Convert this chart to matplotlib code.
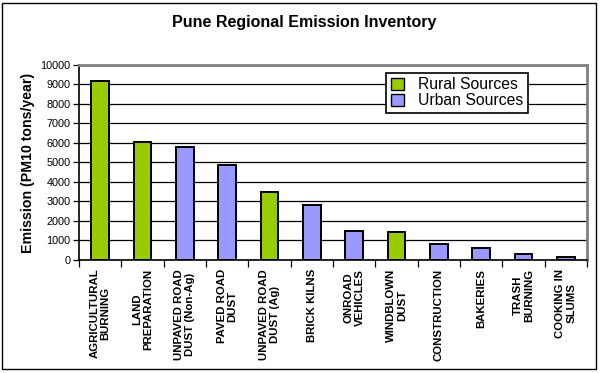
import matplotlib.pyplot as plt
from matplotlib.patches import Patch, Rectangle
import numpy as np

plt.rcParams['font.family'] = ['Liberation Sans', 'DejaVu Sans']

# data
categories = ['AGRICULTURAL\nBURNING', 'LAND\nPREPARATION', 'UNPAVED ROAD\nDUST (Non-Ag)',
              'PAVED ROAD\nDUST', 'UNPAVED ROAD\nDUST (Ag)', 'BRICK KILNS',
              'ONROAD\nVEHICLES', 'WINDBLOWN\nDUST', 'CONSTRUCTION', 'BAKERIES',
              'TRASH\nBURNING', 'COOKING IN\nSLUMS']
emissions = [9200, 6050, 5800, 4850, 3500, 2800, 1500, 1450, 830, 630, 300, 170]
source_type = ['Rural', 'Rural', 'Urban', 'Urban', 'Rural', 'Urban',
               'Urban', 'Rural', 'Urban', 'Urban', 'Urban', 'Urban']
yticks = list(range(0, 10001, 1000))

colors = {'Rural': '#99CC00', 'Urban': '#9999FF'}

fig = plt.figure(figsize=(6, 3.73), dpi=100)
ax = fig.add_axes([0.1317, 0.303, 0.8466, 0.523])

x = np.arange(len(categories))
ax.bar(x, emissions, width=0.42, color=[colors[s] for s in source_type],
       edgecolor='black', linewidth=1.4, zorder=3)

ax.set_xlim(-0.5, len(categories) - 0.5)
ax.set_ylim(0, 10000)
ax.set_yticks(yticks)
ax.set_yticklabels([str(v) for v in yticks], fontsize=7.8)
ax.yaxis.grid(True, color='black', linewidth=0.9, zorder=0)
ax.set_axisbelow(True)

# category ticks sit between bars
ax.set_xticks(np.arange(len(categories) + 1) - 0.5)
ax.set_xticklabels([])
ax.tick_params(axis='x', length=5, width=0.9, direction='out')
ax.tick_params(axis='y', length=4, width=0.9, direction='out', pad=2)
for xi, lab in zip(x, categories):
    ax.text(xi, -0.045, lab, transform=ax.get_xaxis_transform(), rotation=90,
            ha='center', va='top', multialignment='center', fontsize=8.2,
            fontweight='bold', linespacing=1.1)

for side in ['top', 'right']:
    ax.spines[side].set_color('#808080')
    ax.spines[side].set_linewidth(2)
for side in ['left', 'bottom']:
    ax.spines[side].set_linewidth(1.2)

ax.set_ylabel('Emission (PM10 tons/year)', fontsize=10.2, fontweight='bold', labelpad=4)
fig.text(0.507, 0.94, 'Pune Regional Emission Inventory', ha='center', va='center',
         fontsize=11.5, fontweight='bold')

handles = [Patch(facecolor=colors['Rural'], edgecolor='black', label='Rural Sources'),
           Patch(facecolor=colors['Urban'], edgecolor='black', label='Urban Sources')]
leg = ax.legend(handles=handles, loc='upper left', bbox_to_anchor=(0.605, 0.96),
                fontsize=11.3, frameon=True, fancybox=False, framealpha=1,
                borderpad=0.3, handlelength=0.8, handleheight=0.8,
                handletextpad=0.9, labelspacing=0.05, borderaxespad=0)
leg.get_frame().set_edgecolor('black')
leg.get_frame().set_linewidth(1.2)

# outer chart border
fig.patches.append(Rectangle((0.004, 0.01), 0.99, 0.982, transform=fig.transFigure,
                             fill=False, edgecolor='black', linewidth=1))

fig.savefig('out.png', dpi=100)
